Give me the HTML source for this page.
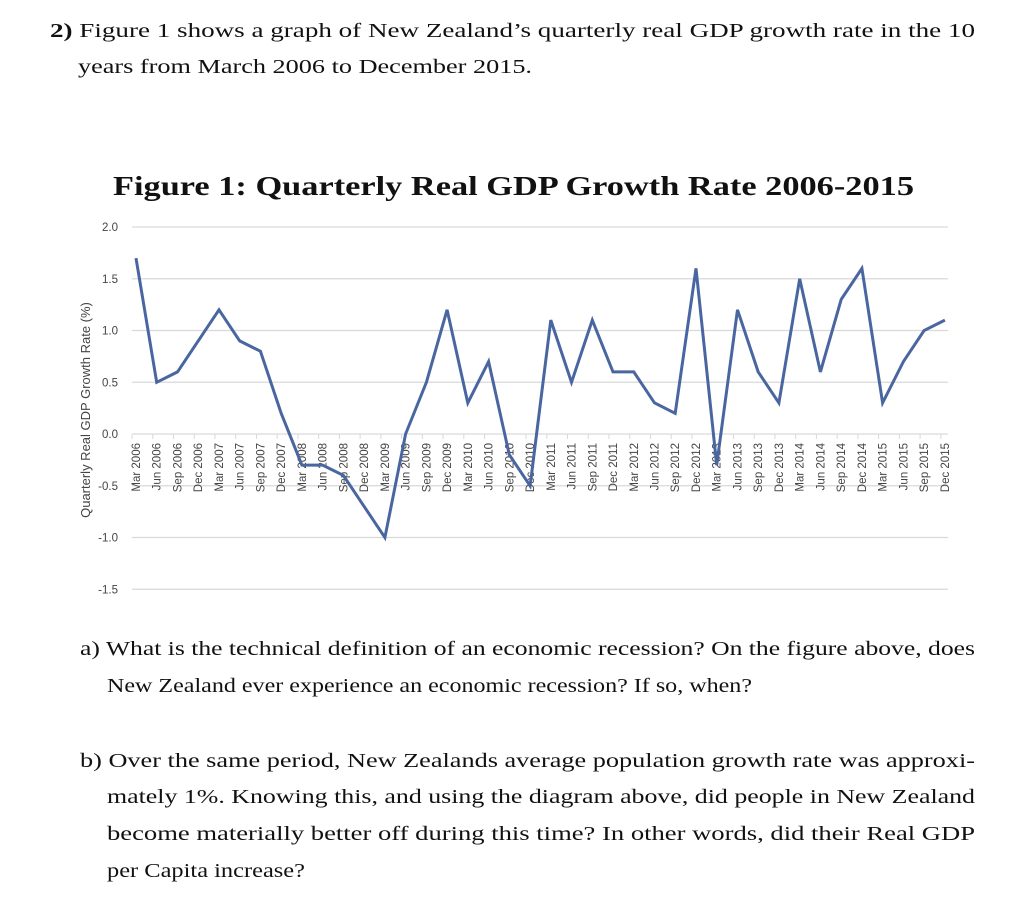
<!DOCTYPE html>
<html><head><meta charset="utf-8"><style>
html,body{margin:0;padding:0;background:#fff;}
svg{display:block;}
.tx{font-family:"Liberation Serif",serif;font-size:20px;fill:#111;}
.tk{font-family:"Liberation Sans",sans-serif;font-size:11.5px;fill:#444;}
</style></head><body>
<svg id="page" width="1036" height="914" viewBox="0 0 1036 914">
<text class="tx" x="50" y="37" textLength="925" lengthAdjust="spacingAndGlyphs"><tspan font-weight="bold">2)</tspan> Figure 1 shows a graph of New Zealand’s quarterly real GDP growth rate in the 10</text>
<text class="tx" x="78" y="73" textLength="454" lengthAdjust="spacingAndGlyphs">years from March 2006 to December 2015.</text>
<text x="113" y="195" textLength="801" lengthAdjust="spacingAndGlyphs" font-family="Liberation Serif, serif" font-weight="bold" font-size="27" fill="#111">Figure 1: Quarterly Real GDP Growth Rate 2006-2015</text>
<g id="chart"></g>
<text transform="translate(90,410) rotate(-90)" text-anchor="middle" font-family="Liberation Sans, sans-serif" font-size="13" fill="#444">Quarterly Real GDP Growth Rate (%)</text>
<text class="tx" x="80" y="655" textLength="895" lengthAdjust="spacingAndGlyphs">a) What is the technical definition of an economic recession? On the figure above, does</text>
<text class="tx" x="107" y="692" textLength="645" lengthAdjust="spacingAndGlyphs">New Zealand ever experience an economic recession? If so, when?</text>
<text class="tx" x="80" y="767" textLength="895" lengthAdjust="spacingAndGlyphs">b) Over the same period, New Zealands average population growth rate was approxi-</text>
<text class="tx" x="107" y="803" textLength="868" lengthAdjust="spacingAndGlyphs">mately 1%. Knowing this, and using the diagram above, did people in New Zealand</text>
<text class="tx" x="107" y="840" textLength="868" lengthAdjust="spacingAndGlyphs">become materially better off during this time? In other words, did their Real GDP</text>
<text class="tx" x="107" y="877" textLength="198" lengthAdjust="spacingAndGlyphs">per Capita increase?</text>
</svg>
<script>
const categories = ["Mar 2006","Jun 2006","Sep 2006","Dec 2006","Mar 2007","Jun 2007","Sep 2007","Dec 2007","Mar 2008","Jun 2008","Sep 2008","Dec 2008","Mar 2009","Jun 2009","Sep 2009","Dec 2009","Mar 2010","Jun 2010","Sep 2010","Dec 2010","Mar 2011","Jun 2011","Sep 2011","Dec 2011","Mar 2012","Jun 2012","Sep 2012","Dec 2012","Mar 2013","Jun 2013","Sep 2013","Dec 2013","Mar 2014","Jun 2014","Sep 2014","Dec 2014","Mar 2015","Jun 2015","Sep 2015","Dec 2015"];
const growthValues = [1.7,0.5,0.6,0.9,1.2,0.9,0.8,0.2,-0.3,-0.3,-0.4,-0.7,-1.0,0.0,0.5,1.2,0.3,0.7,-0.2,-0.5,1.1,0.5,1.1,0.6,0.6,0.3,0.2,1.6,-0.3,1.2,0.6,0.3,1.5,0.6,1.3,1.6,0.3,0.7,1.0,1.1];
const yTicks = [2.0,1.5,1.0,0.5,0.0,-0.5,-1.0,-1.5];

const NS = "http://www.w3.org/2000/svg";
const g = document.getElementById('chart');
const x0 = 132, x1 = 948, step = 20.74;
function yScale(v){ return 434 - v*103.5; }
function tickX(i){ return x0 + i*step; }
function pointX(i){ return tickX(i) + 4; }
function mk(tag, attrs){ const e = document.createElementNS(NS, tag); for (const k in attrs) e.setAttribute(k, attrs[k]); g.appendChild(e); return e; }

yTicks.forEach(function(v){
  const ln = mk('line', {x1:x0, x2:x1, y1:yScale(v), y2:yScale(v), stroke:'#d9d9d9', 'stroke-width':1.3});
  
  
  const t = mk('text', {x:118, y:yScale(v)+4, 'text-anchor':'end', class:'tk'});
  t.textContent = v.toFixed(1);
  
  
});
categories.forEach(function(c, i){
  const tm = mk('line', {x1:tickX(i), x2:tickX(i), y1:434, y2:439, stroke:'#d9d9d9', 'stroke-width':1});
  
  
  const t = mk('text', {transform:'translate(' + (pointX(i)+4) + ',443) rotate(-90)', 'text-anchor':'end', class:'tk'});
  t.textContent = c;
  
  
});
const pts = growthValues.map(function(v, i){ return pointX(i).toFixed(1) + ',' + yScale(v).toFixed(1); }).join(' ');
const line = mk('polyline', {points:pts, fill:'none', stroke:'#4a66a0', 'stroke-width':3, 'stroke-linejoin':'miter'});


</script>
</body></html>
